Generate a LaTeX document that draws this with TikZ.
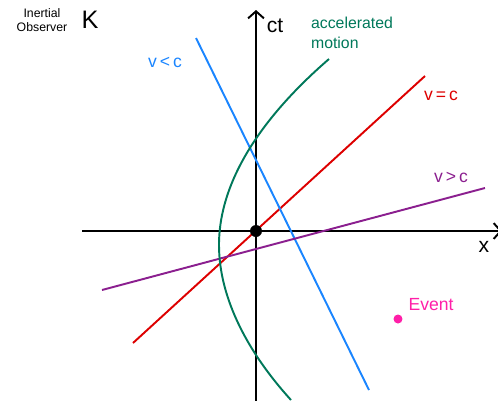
\documentclass[tikz,border=0pt]{standalone}
\usepackage{fontspec}
\setmainfont{Liberation Sans}
\usetikzlibrary{arrows.meta,positioning}
\definecolor{lightc}{HTML}{DD0000}
\definecolor{slowc}{HTML}{1A85FF}
\definecolor{fastc}{HTML}{8B1F8F}
\definecolor{accelc}{HTML}{00785A}
\definecolor{eventc}{HTML}{FF1FA8}
\tikzset{
  axis/.style={line width=1.1pt,-{Straight Barb[length=4pt,width=9pt]}},
  wline/.style={line width=1.1pt},
  lbl/.style={font=\normalsize,inner sep=1pt},
  dot/.style={circle,inner sep=0pt},
}

\begin{document}
\begin{tikzpicture}[x=0.02cm,y=-0.02cm]
\useasboundingbox (0,0) rectangle (498,400);

% axes
\coordinate (xl) at (82,231);
\coordinate (xr) at (502,231);
\coordinate (tb) at (256,402);
\coordinate (tt) at (256,10);
\draw[axis] (xl) -- (xr);
\draw[axis] (tb) -- (tt);
\node[lbl,font=\large] (xlab) at (484,247) {x};
\node[lbl,font=\large] (ctlab) at (275,26) {ct};

% world lines
\coordinate (ca) at (133,343);
\coordinate (cb) at (425,76);
\draw[wline,lightc] (ca) -- (cb);
\node[lbl,text=lightc] (clab) at (441,96) {v\,=\,c};

\coordinate (sa) at (196,38);
\coordinate (sb) at (369,390);
\draw[wline,slowc] (sa) -- (sb);
\node[lbl,text=slowc] (slab) at (165,62) {v\,<\,c};

\coordinate (fa) at (102,290);
\coordinate (fb) at (485,188);
\draw[wline,fastc] (fa) -- (fb);
\node[lbl,text=fastc] (flab) at (451,177) {v\,>\,c};

% accelerated motion
\coordinate (ha) at (329,59);
\coordinate (hv) at (219,245);
\coordinate (hb) at (291,400);
\draw[wline,accelc] (ha) .. controls (270,110) and (219,175) .. (hv)
  .. controls (219,300) and (250,355) .. (hb);
\node[lbl,text=accelc,align=left,font=\small] (alab) at (352,33)
  {accelerated\\motion};

\node[dot,fill=black,minimum size=0.24cm] (org) at (256,231) {};

% event
\node[dot,fill=eventc,minimum size=0.18cm] (ev) at (398,319) {};
\node[lbl,text=eventc,above right=0.05cm and 0.1cm of ev] (evlab) {Event};

% observer
\node[lbl,font=\scriptsize,align=center] (obs) at (42,20)
  {Inertial\\Observer};
\node[lbl,font=\Large,right=0.2cm of obs] (klab) {K};
\end{tikzpicture}
\end{document}
